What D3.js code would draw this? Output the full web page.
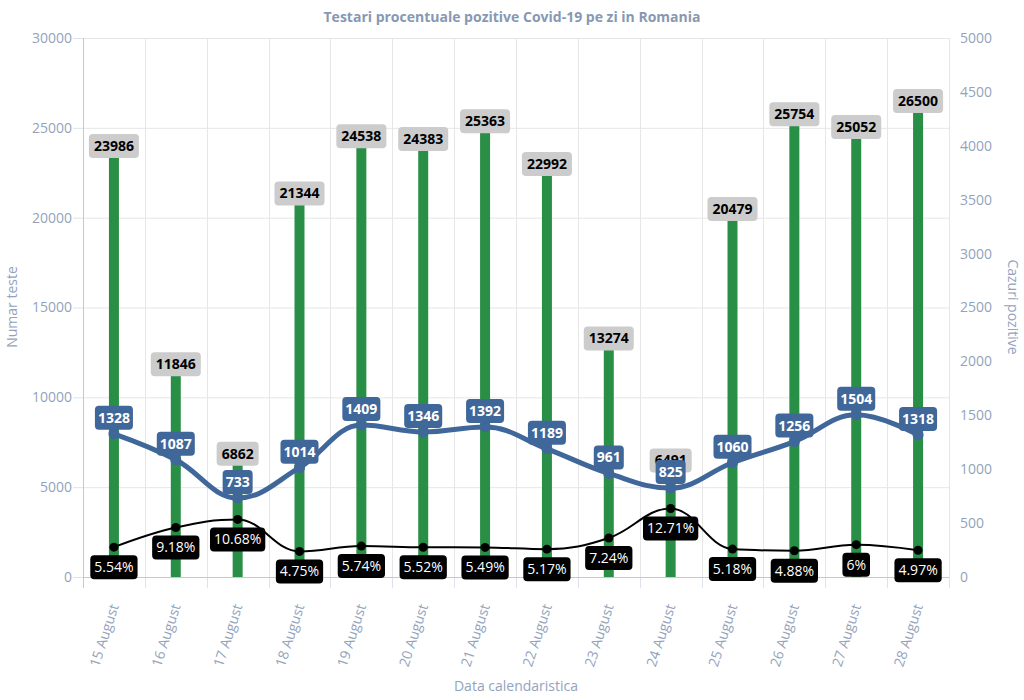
<!DOCTYPE html>
<html>
<head>
<meta charset="utf-8">
<script src="https://cdn.jsdelivr.net/npm/d3@7"></script>
<style>
  html, body { margin: 0; padding: 0; background: #fff; }
  svg { display: block; font-family: "Open Sans", sans-serif; }
</style>
</head>
<body>
<svg id="chart" width="1024" height="700"></svg>
<script>
const categories = ["15 August","16 August","17 August","18 August","19 August","20 August","21 August","22 August","23 August","24 August","25 August","26 August","27 August","28 August"];
const tests = [23986, 11846, 6862, 21344, 24538, 24383, 25363, 22992, 13274, 6491, 20479, 25754, 25052, 26500];
const cases = [1328, 1087, 733, 1014, 1409, 1346, 1392, 1189, 961, 825, 1060, 1256, 1504, 1318];
const percents = [5.54, 9.18, 10.68, 4.75, 5.74, 5.52, 5.49, 5.17, 7.24, 12.71, 5.18, 4.88, 6, 4.97];
const leftTicks = [0, 5000, 10000, 15000, 20000, 25000, 30000];
const rightTicks = [0, 500, 1000, 1500, 2000, 2500, 3000, 3500, 4000, 4500, 5000];

const title = "Testari procentuale pozitive Covid-19 pe zi in Romania";
const leftTitle = "Numar teste";
const rightTitle = "Cazuri pozitive";
const bottomTitle = "Data calendaristica";

const W = 1024, H = 700;
const plot = { left: 83, right: 949, top: 38, bottom: 577 };
const colors = { green: "#2a8f46", blue: "#40679a", label: "#93a3bd", grid: "#e6e6e6", axis: "#c8c8c8" };

const svg = d3.select("#chart");

const x = d3.scaleBand().domain(categories).range([plot.left, plot.right]).padding(0);
const yLeft = d3.scaleLinear().domain([0, 30000]).range([plot.bottom, plot.top]);
const yRight = d3.scaleLinear().domain([0, 5000]).range([plot.bottom, plot.top]);
const yPct = d3.scaleLinear().domain([0, 100]).range([plot.bottom, plot.top]);
const cx = c => x(c) + x.bandwidth() / 2;

// Horizontal grid
svg.append("g").selectAll("line").data(leftTicks.filter(t => t > 0)).join("line")
  .attr("x1", plot.left).attr("x2", plot.right)
  .attr("y1", d => yLeft(d) + 0.5).attr("y2", d => yLeft(d) + 0.5)
  .attr("stroke", colors.grid);

// Vertical grid (between categories) with tick extension
const bounds = categories.map(c => x(c)).concat([plot.right]);
svg.append("g").selectAll("line").data(bounds.slice(1)).join("line")
  .attr("x1", d => Math.round(d) + 0.5).attr("x2", d => Math.round(d) + 0.5)
  .attr("y1", plot.top).attr("y2", plot.bottom)
  .attr("stroke", colors.grid);
svg.append("g").selectAll("line").data(bounds).join("line")
  .attr("x1", d => Math.round(d) + 0.5).attr("x2", d => Math.round(d) + 0.5)
  .attr("y1", plot.bottom).attr("y2", plot.bottom + 11)
  .attr("stroke", "#dde3ee");

// Left axis
const gL = svg.append("g").attr("transform", `translate(${plot.left},0)`)
  .call(d3.axisLeft(yLeft).tickValues(leftTicks).tickSize(10).tickPadding(1).tickFormat(d3.format("d")));
gL.select(".domain").attr("stroke", colors.axis).attr("d", `M0.5,${plot.top}V${plot.bottom + 11}`);
gL.selectAll(".tick line").attr("stroke", "#dde3ee");
gL.selectAll(".tick text").attr("fill", colors.label).attr("font-size", 14).attr("font-family", "Open Sans");

// Bottom axis line
svg.append("line").attr("x1", plot.left).attr("x2", plot.right)
  .attr("y1", plot.bottom + 0.5).attr("y2", plot.bottom + 0.5).attr("stroke", colors.axis);

// Right axis
const gR = svg.append("g").attr("transform", `translate(${plot.right},0)`)
  .call(d3.axisRight(yRight).tickValues(rightTicks).tickSize(0).tickPadding(11).tickFormat(d3.format("d")));
gR.select(".domain").remove();
gR.selectAll(".tick text").attr("fill", colors.label).attr("font-size", 14).attr("font-family", "Open Sans");

// X labels
svg.append("g").selectAll("text").data(categories).join("text")
  .attr("transform", d => `translate(${cx(d) + 5},${plot.bottom + 29}) rotate(-72)`)
  .attr("text-anchor", "end")
  .attr("fill", colors.label).attr("font-size", 14)
  .text(d => d);

// Titles
svg.append("text").attr("x", 512).attr("y", 22).attr("text-anchor", "middle")
  .attr("font-size", 14).attr("font-weight", "bold").attr("fill", "#8798b3").text(title);
svg.append("text").attr("transform", `translate(17,307) rotate(-90)`).attr("text-anchor", "middle")
  .attr("font-size", 14).attr("fill", colors.label).text(leftTitle);
svg.append("text").attr("transform", `translate(1008,307) rotate(90)`).attr("text-anchor", "middle")
  .attr("font-size", 14).attr("fill", colors.label).text(rightTitle);
svg.append("text").attr("x", 516).attr("y", 691).attr("text-anchor", "middle")
  .attr("font-size", 14).attr("fill", colors.label).text(bottomTitle);

// Bars
svg.append("g").selectAll("rect").data(categories).join("rect")
  .attr("x", d => cx(d) - 5).attr("width", 10)
  .attr("y", (d, i) => yLeft(tests[i])).attr("height", (d, i) => plot.bottom - yLeft(tests[i]))
  .attr("fill", colors.green);

// Label helper
function labels(g, data, opts) {
  const grp = g.append("g");
  data.forEach(dd => {
    const t = grp.append("text").attr("x", dd.x).attr("font-size", opts.size)
      .attr("font-weight", opts.weight).attr("fill", opts.color)
      .attr("text-anchor", "middle").text(dd.text);
    const w = t.node().getComputedTextLength() + 2 * opts.padX;
    const h = 24;
    let top;
    if (opts.pos === "center") top = dd.y - h / 2;
    else if (opts.pos === "above") top = dd.y - opts.gap - h;
    else top = dd.y + opts.gap;
    t.attr("y", top + h / 2).attr("dy", "0.35em");
    grp.insert("rect", () => t.node())
      .attr("x", dd.x - w / 2).attr("y", top).attr("width", w).attr("height", h)
      .attr("rx", 4).attr("ry", 4).attr("fill", opts.bg);
  });
}

// Gray labels for tests
labels(svg, categories.map((c, i) => ({ x: cx(c), y: yLeft(tests[i]), text: String(tests[i]) })),
  { size: 14, weight: "bold", color: "#000", bg: "#cccccc", padX: 5, pos: "center" });

// Highcharts-like spline
function splinePath(pts) {
  const s = 1.5, den = s + 1;
  let d = `M${pts[0][0]},${pts[0][1]}`;
  const rc = [];
  for (let i = 1; i < pts.length; i++) {
    const [px, py] = pts[i];
    let lx = px, ly = py, rx = null, ry = null;
    if (i < pts.length - 1) {
      const [ax, ay] = pts[i - 1], [bx, by] = pts[i + 1];
      lx = (s * px + ax) / den; ly = (s * py + ay) / den;
      rx = (s * px + bx) / den; ry = (s * py + by) / den;
      const corr = ((ry - ly) * (rx - px)) / (rx - lx) + py - ry;
      ly += corr; ry += corr;
      if (ly > ay && ly > py) { ly = Math.max(ay, py); ry = 2 * py - ly; }
      else if (ly < ay && ly < py) { ly = Math.min(ay, py); ry = 2 * py - ly; }
      if (ry > by && ry > py) { ry = Math.max(by, py); ly = 2 * py - ry; }
      else if (ry < by && ry < py) { ry = Math.min(by, py); ly = 2 * py - ry; }
    }
    const prev = rc[i - 1] || pts[i - 1];
    d += `C${prev[0]},${prev[1]},${lx},${ly},${px},${py}`;
    rc[i] = rx !== null ? [rx, ry] : null;
  }
  return d;
}

// Blue line (cases)
const bluePts = categories.map((c, i) => [cx(c), yRight(cases[i])]);
svg.append("path").attr("d", splinePath(bluePts)).attr("fill", "none")
  .attr("stroke", colors.blue).attr("stroke-width", 5).attr("stroke-linejoin", "round");
svg.append("g").selectAll("circle").data(bluePts).join("circle")
  .attr("cx", d => d[0]).attr("cy", d => d[1]).attr("r", 5.5).attr("fill", colors.blue);
labels(svg, categories.map((c, i) => ({ x: cx(c), y: yRight(cases[i]), text: String(cases[i]) })),
  { size: 14, weight: "bold", color: "#fff", bg: colors.blue, padX: 3, pos: "above", gap: 4 });

// Black line (percent)
const blackPts = categories.map((c, i) => [cx(c), yPct(percents[i])]);
svg.append("path").attr("d", splinePath(blackPts)).attr("fill", "none")
  .attr("stroke", "#000").attr("stroke-width", 2);
svg.append("g").selectAll("circle").data(blackPts).join("circle")
  .attr("cx", d => d[0]).attr("cy", d => d[1]).attr("r", 4.5).attr("fill", "#000");
labels(svg, categories.map((c, i) => ({ x: cx(c), y: yPct(percents[i]), text: percents[i] + "%" })),
  { size: 14, weight: "normal", color: "#fff", bg: "#000", padX: 4, pos: "below", gap: 8 });
</script>
</body>
</html>
